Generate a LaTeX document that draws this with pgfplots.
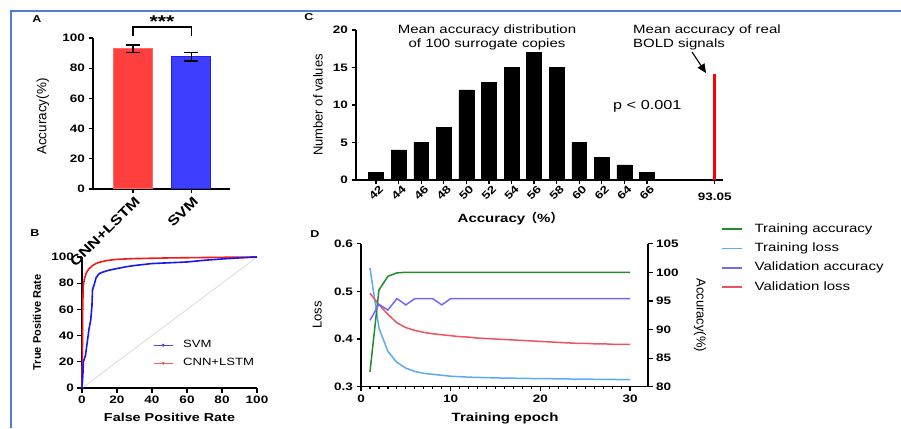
\documentclass[border=0pt]{standalone}
\usepackage{fontspec}
\setmainfont{Liberation Sans}[FakeStretch=1.25]
\newfontfamily\vfont{Liberation Sans}
\newfontfamily\cjk{Noto Sans CJK SC}
\usepackage{pgfplots}
\pgfplotsset{compat=1.18}
\usetikzlibrary{arrows.meta}

\definecolor{frameblue}{RGB}{80,125,210}
\definecolor{barred}{RGB}{255,62,62}
\definecolor{barredE}{RGB}{255,105,105}
\definecolor{barblue}{RGB}{62,62,255}
\definecolor{barblueE}{RGB}{35,35,225}
\definecolor{rocred}{RGB}{245,25,25}
\definecolor{rocblue}{RGB}{25,25,235}
\definecolor{tgreen}{RGB}{35,140,45}
\definecolor{tblue}{RGB}{95,170,245}
\definecolor{vpurple}{RGB}{115,105,245}
\definecolor{vred}{RGB}{235,85,95}

\newcommand{\tlf}{\bfseries\fontsize{10.8}{12}\selectfont}

\pgfplotsset{
  gp/.style={
    scale only axis,
    anchor=south west,
    axis x line*=bottom, axis y line*=left,
    axis line style={line width=1.3pt, -},
    tick align=outside,
    major tick length=4.5pt,
    minor tick length=2.5pt,
    tick style={black, line width=1.2pt},
    every tick label/.append style={font=\tlf},
    xticklabel style={font=\tlf},
    yticklabel style={font=\tlf},
    /pgf/number format/assume math mode=true,
    clip=false,
  }
}

\begin{document}
\begin{tikzpicture}
\path[use as bounding box] (0pt,0pt) rectangle (901pt,428pt);
\fill[white] (0pt,0pt) rectangle (901pt,428pt);
\draw[frameblue, line width=1.5pt] (11pt,0pt) -- (11pt,417pt) -- (901pt,417pt);

% ---------------- Panel A ----------------
\begin{axis}[gp, at={(93pt,239pt)}, width=137pt, height=151pt,
  xmin=-0.69, xmax=1.67, ymin=0, ymax=100,
  ytick={0,20,...,100},
  xtick={0,1}, xticklabels={CNN+LSTM,SVM},
  xticklabel style={rotate=45, anchor=east, xshift=3pt, yshift=-7pt, font=\bfseries\fontsize{13.5}{15}\selectfont},
  ylabel={Accuracy(\%)},
  ylabel style={at={(axis description cs:-0.365,0.48)}, anchor=center, font=\vfont\fontsize{13.5}{15}\selectfont},
]
\addplot[ybar, bar shift=0pt, bar width=0.67, fill=barred, draw=barredE, line width=1pt,
  error bars/.cd, y dir=both, y explicit,
  error bar style={black, line width=1.2pt},
  error mark options={rotate=90, mark size=7pt, line width=1.2pt, black}]
  coordinates {(0,92.8) +- (0,2.6)};
\addplot[ybar, bar shift=0pt, bar width=0.67, fill=barblue, draw=barblueE, line width=1pt,
  error bars/.cd, y dir=both, y explicit,
  error bar style={black, line width=1.2pt},
  error mark options={rotate=90, mark size=7pt, line width=1.2pt, black}]
  coordinates {(1,87.5) +- (0,2.7)};
\draw[line width=1.2pt] (axis cs:0,101.3) -- (axis cs:0,107.3) -- (axis cs:1,107.3) -- (axis cs:1,101.3);
\node[font=\bfseries\fontsize{17}{17}\selectfont] at (axis cs:0.5,111) {***};
\end{axis}

% ---------------- Panel B ----------------
\begin{axis}[gp, at={(82pt,40pt)}, width=175pt, height=131pt,
  xmin=0, xmax=100, ymin=0, ymax=100,
  xtick={0,20,...,100}, ytick={0,20,...,100},
  xlabel={False Positive Rate},
  xlabel style={at={(axis description cs:0.5,-0.221)}, anchor=center, font=\bfseries\fontsize{11.5}{13}\selectfont},
  ylabel={True Positive Rate},
  ylabel style={at={(axis description cs:-0.257,0.5)}, anchor=center, font=\vfont\bfseries\fontsize{11}{13}\selectfont},
  legend image code/.code={\draw[#1] (0pt,0pt) -- (19pt,0pt); \fill[#1] (9.5pt,0pt) circle (1.1pt);},
  legend style={draw=none, fill=none, at={(axis description cs:0.406,0.376)}, anchor=north west,
    font=\fontsize{10.5}{12}\selectfont, row sep=5.5pt, column sep=9pt, inner sep=0pt,
    nodes={inner sep=1pt, text height=8pt, text depth=2.5pt}},
  legend cell align=left,
]
\addlegendimage{rocblue!80!white, line width=0.8pt}
\addlegendentry{SVM}
\addlegendimage{rocred!70!white, line width=0.8pt}
\addlegendentry{CNN+LSTM}
\addplot[gray!35, line width=0.6pt, forget plot] coordinates {(0,0) (100,100)};
\addplot[rocred, line width=1.6pt, forget plot] coordinates {
 (0,0) (0.2,20) (0.4,60) (0.7,78) (1.5,84) (2.5,88) (4,91) (6,93.5) (8,95) (10,96)
 (14,97.3) (20,98.2) (30,98.8) (50,99.3) (70,99.6) (90,99.9) (100,100)};
\addplot[rocblue, line width=1.6pt, forget plot] coordinates {
 (0,0) (0.5,10) (0.8,20) (2,25) (3,35) (4,45) (5,52) (5.7,63) (6,75) (7,79) (8,84)
 (9,86) (10,87.5) (12,88.5) (15,89.8) (20,91.2) (25,92.5) (30,93.5) (40,95) (50,95.6)
 (60,96.2) (70,97.5) (80,98.5) (90,99.3) (100,100)};
\end{axis}

% ---------------- Panel C ----------------
\begin{axis}[gp, at={(356pt,248pt)}, width=367pt, height=150pt,
  xmin=-0.89, xmax=15.37, ymin=0, ymax=20,
  ytick={0,5,...,20},
  xtick={0,1,2,3,4,5,6,7,8,9,10,11,12,15},
  xticklabels={42,44,46,48,50,52,54,56,58,60,62,64,66,{}},
  xticklabel style={rotate=45, anchor=east, xshift=5pt, yshift=-6pt},
  xlabel={Accuracy{\cjk （}\%{\cjk ）}},
  xlabel style={at={(axis description cs:0.42,-0.26)}, anchor=center, font=\bfseries\fontsize{12}{14}\selectfont},
  ylabel={Number of values},
  ylabel style={at={(axis description cs:-0.1035,0.5)}, anchor=center, font=\vfont\fontsize{13}{15}\selectfont},
]
\addplot[ybar, bar shift=0pt, bar width=0.66, fill=black, draw=black] coordinates {
 (0,1) (1,4) (2,5) (3,7) (4,12) (5,13) (6,15) (7,17) (8,15) (9,5) (10,3) (11,2) (12,1)};
\addplot[ybar, bar shift=0pt, bar width=3pt, fill=red, draw=none] coordinates {(15,14.1)};
\node[font=\tlf, anchor=north] at ([yshift=-9pt]axis cs:15,0) {93.05};
\end{axis}

\node[align=center, font=\fontsize{12}{14}\selectfont] at (487pt,391pt) {Mean accuracy distribution\\of 100 surrogate copies};
\node[align=left, anchor=west, inner sep=0pt, font=\fontsize{12}{14}\selectfont] at (633pt,391pt) {Mean accuracy of real\\BOLD signals};
\node[anchor=west, inner sep=0pt, font=\fontsize{13}{15}\selectfont] at (613pt,322pt) {p < 0.001};
\draw[-{Triangle[length=9pt,width=8pt]}, line width=1.1pt] (692pt,376pt) -- (706pt,355pt);

% ---------------- Panel D ----------------
\begin{axis}[gp, at={(361pt,41.3pt)}, width=287pt, height=143pt,
  xmin=0, xmax=32, ymin=0.3, ymax=0.6,
  xtick={0,10,20,30}, minor x tick num=9,
  ytick={0.3,0.4,0.5,0.6},
  yticklabel style={/pgf/number format/.cd, fixed, fixed zerofill, precision=1},
  xlabel={Training epoch},
  xlabel style={at={(axis description cs:0.502,-0.219)}, anchor=center, font=\bfseries\fontsize{12}{14}\selectfont},
  ylabel={Loss},
  ylabel style={at={(axis description cs:-0.153,0.5)}, anchor=center, font=\vfont\fontsize{13}{15}\selectfont},
]
\addplot[tblue, line width=1.5pt] coordinates {
 (1,0.549) (2,0.423) (3,0.374) (4,0.351) (5,0.339) (6,0.332) (7,0.328) (8,0.326) (9,0.324) (10,0.322)
 (11,0.321) (12,0.320) (13,0.3195) (14,0.319) (15,0.3185) (16,0.318) (17,0.3178) (18,0.3175) (19,0.3172) (20,0.317)
 (21,0.3168) (22,0.3165) (23,0.3162) (24,0.316) (25,0.3158) (26,0.3156) (27,0.3154) (28,0.3152) (29,0.315) (30,0.315)};
\addplot[vred, line width=1.5pt] coordinates {
 (1,0.496) (2,0.472) (3,0.452) (4,0.434) (5,0.424) (6,0.418) (7,0.414) (8,0.411) (9,0.409) (10,0.407)
 (11,0.405) (12,0.404) (13,0.402) (14,0.401) (15,0.400) (16,0.399) (17,0.398) (18,0.397) (19,0.396) (20,0.395)
 (21,0.394) (22,0.393) (23,0.392) (24,0.391) (25,0.391) (26,0.390) (27,0.390) (28,0.389) (29,0.389) (30,0.389)};
\end{axis}

\begin{axis}[gp, at={(361pt,41.3pt)}, width=287pt, height=143pt,
  axis x line=none, axis y line*=right,
  xmin=0, xmax=32, ymin=80, ymax=105,
  ytick={80,85,...,105},
  ylabel={Accuracy(\%)},
  ylabel style={at={(axis description cs:1.181,0.5)}, anchor=center, rotate=180, font=\vfont\fontsize{13}{15}\selectfont},
  legend image code/.code={\draw[#1] (0pt,0pt) -- (20pt,0pt);},
  legend style={draw=none, fill=none, at={(axis description cs:1.254,1.152)}, anchor=north west,
    font=\fontsize{12}{14}\selectfont, row sep=5.3pt, column sep=11pt, inner sep=0pt,
    nodes={inner sep=1pt, text height=9pt, text depth=3pt}},
  legend cell align=left,
]
\addlegendimage{tgreen, line width=1.5pt}\addlegendentry{Training accuracy}
\addlegendimage{tblue, line width=1.5pt}\addlegendentry{Training loss}
\addlegendimage{vpurple, line width=1.5pt}\addlegendentry{Validation accuracy}
\addlegendimage{vred, line width=1.5pt}\addlegendentry{Validation loss}
\addplot[tgreen, line width=1.5pt, forget plot] coordinates {
 (1,82.6) (2,96.9) (3,99.3) (4,99.9) (5,100) (6,100) (7,100) (8,100) (9,100) (10,100)
 (11,100) (12,100) (13,100) (14,100) (15,100) (16,100) (17,100) (18,100) (19,100) (20,100)
 (21,100) (22,100) (23,100) (24,100) (25,100) (26,100) (27,100) (28,100) (29,100) (30,100)};
\addplot[vpurple, line width=1.5pt, forget plot] coordinates {
 (1,91.6) (2,94.4) (3,93.4) (4,95.4) (5,94.3) (6,95.4) (7,95.4) (8,95.4) (9,94.3) (10,95.4)
 (11,95.4) (12,95.4) (13,95.4) (14,95.4) (15,95.4) (16,95.4) (17,95.4) (18,95.4) (19,95.4) (20,95.4)
 (21,95.4) (22,95.4) (23,95.4) (24,95.4) (25,95.4) (26,95.4) (27,95.4) (28,95.4) (29,95.4) (30,95.4)};
\end{axis}

% panel letters
\node[font=\bfseries\fontsize{10}{12}\selectfont] at (37pt,409pt) {A};
\node[font=\bfseries\fontsize{10}{12}\selectfont] at (35pt,195pt) {B};
\node[font=\bfseries\fontsize{10}{12}\selectfont] at (309pt,411pt) {C};
\node[font=\bfseries\fontsize{10}{12}\selectfont] at (315pt,194pt) {D};
\end{tikzpicture}
\end{document}
